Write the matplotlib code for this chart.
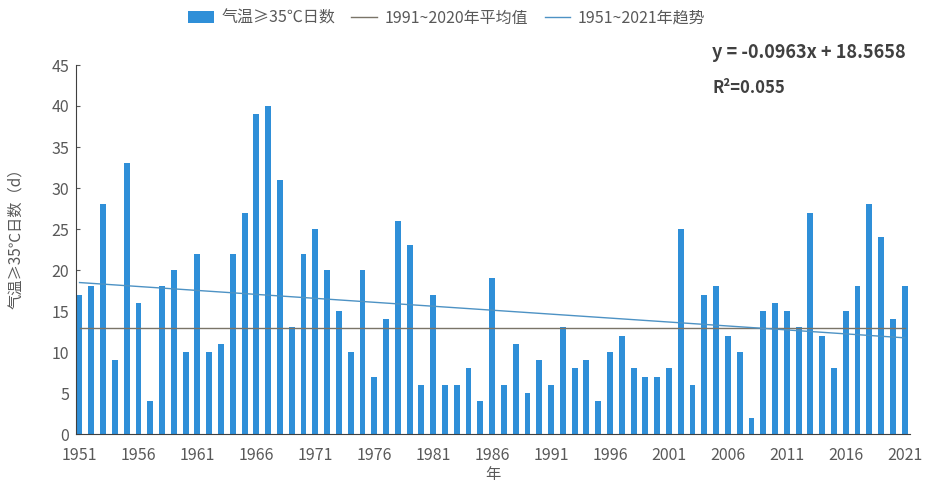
import numpy as np
import matplotlib
matplotlib.use("Agg")
import matplotlib.pyplot as plt

plt.rcParams['font.family'] = ['Noto Sans CJK SC', 'DejaVu Sans']

# 1951-2021 days with max temp >= 35C
years = np.arange(1951, 2022)
days = [17, 18, 28, 9, 33, 16, 4, 18, 20, 10,
        22, 10, 11, 22, 27, 39, 40, 31, 13, 22,
        25, 20, 15, 10, 20, 7, 14, 26, 23, 6,
        17, 6, 6, 8, 4, 19, 6, 11, 5, 9,
        6, 13, 8, 9, 4, 10, 12, 8, 7, 7,
        8, 25, 6, 17, 18, 12, 10, 2, 15, 16,
        15, 13, 27, 12, 8, 15, 18, 28, 24, 14,
        18]
slope = -0.0963
intercept = 18.5658
r2 = 0.055
tick_years = list(range(1951, 2022, 5))

bar_color = '#2f8fd8'
avg_color = '#7a7468'
trend_color = '#4d92c4'
text_gray = '#595959'

days = np.array(days)
base = (years >= 1991) & (years <= 2020)
avg = days[base].mean()
idx = np.arange(1, len(years) + 1)
trend = slope * idx + intercept

fig = plt.figure(figsize=(9.31, 4.86), dpi=100)
ax = fig.add_axes([76 / 931, 1 - 434 / 486, (910 - 76) / 931, (434 - 65) / 486])

b = ax.bar(years, days, width=0.5, color=bar_color, zorder=2)
l1, = ax.plot([years[0], years[-1]], [avg, avg], color=avg_color, lw=1.0, zorder=3)
l2, = ax.plot(years, trend, color=trend_color, lw=1.0, zorder=3)

ax.set_xlim(1950.7, 2021.45)
ax.set_ylim(0, 45)
ax.set_yticks(range(0, 46, 5))
ax.set_xticks(tick_years)
ax.tick_params(axis='x', length=0, pad=9, labelsize=11.5, colors=text_gray)
ax.tick_params(axis='y', length=3, direction='in', pad=5, labelsize=11.5, colors=text_gray)
for s in ['top', 'right']:
    ax.spines[s].set_visible(False)
ax.spines['left'].set_color('#404040')
ax.spines['bottom'].set_color('#404040')

ax.set_xlabel('年', fontsize=11, color=text_gray, labelpad=2)
ax.set_ylabel('气温≥35℃日数（d）', fontsize=11, color=text_gray)
ax.yaxis.set_label_coords(-0.062, 0.54)

fig.text(712 / 931, 1 - 53 / 486, 'y = %.4fx + %.4f' % (slope, intercept),
         fontsize=13, fontweight='bold', color='#404040', va='center')
fig.text(712 / 931, 1 - 88 / 486, 'R²=%.3f' % r2,
         fontsize=12, fontweight='bold', color='#404040', va='center')

fig.legend([b, l1, l2], ['气温≥35℃日数', '1991~2020年平均值', '1951~2021年趋势'],
           loc='center', bbox_to_anchor=(0.48, 1 - 18 / 486), ncol=3, frameon=False,
           fontsize=11.5, handlelength=1.6, handleheight=0.8, columnspacing=1.0,
           handletextpad=0.5, labelcolor=text_gray)

fig.savefig('out.png', dpi=100)
